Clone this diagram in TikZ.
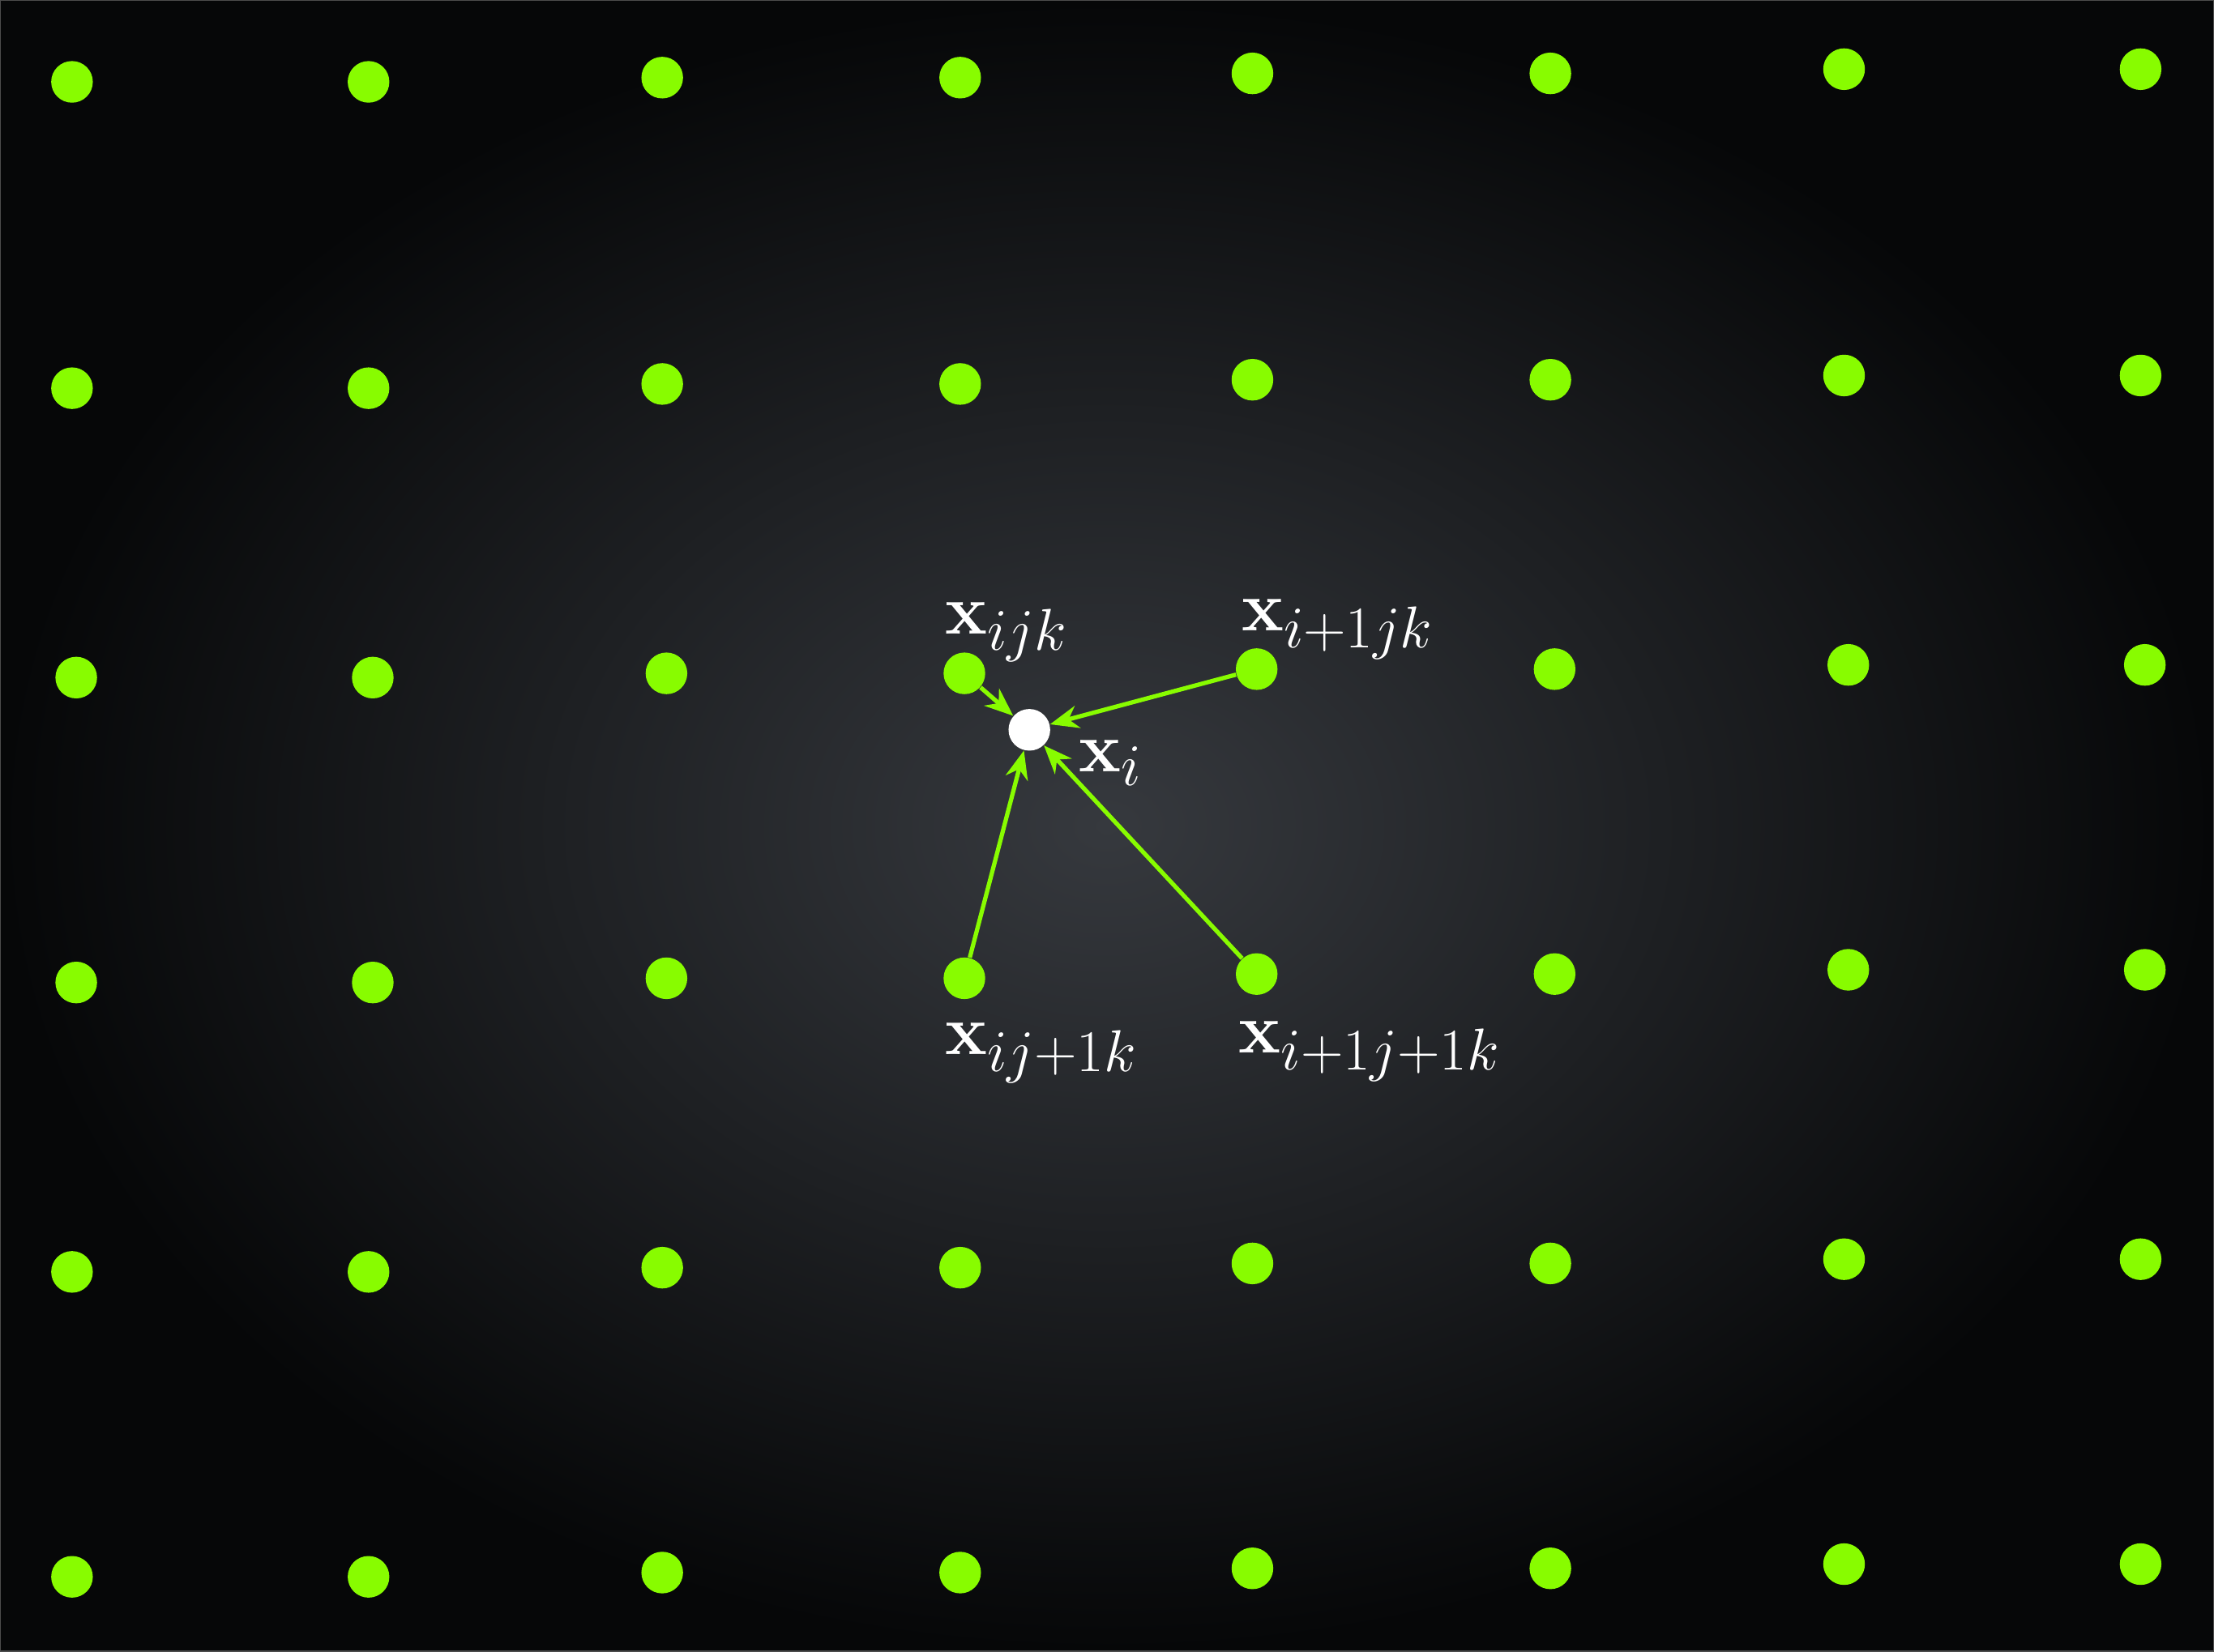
\documentclass[tikz,border=0pt]{standalone}
\usepackage{amsmath}
\usepackage{tikz}
\usetikzlibrary{positioning, calc, arrows.meta}

\definecolor{limegreen}{RGB}{136,252,0}
\definecolor{panelgray}{RGB}{54,57,62}
\definecolor{paneldark}{RGB}{6,7,8}

\tikzset{
    gdot/.style={circle, fill=limegreen, inner sep=0pt, minimum size=0.514cm},
    wdot/.style={circle, fill=white, inner sep=0pt, minimum size=0.514cm},
    link/.style={limegreen, line width=1.5pt, -{Stealth[length=10pt, width=8pt]}},
    lbl/.style={white, anchor=base west, inner sep=0pt, font=\fontsize{28}{33}\selectfont}
}

\begin{document}
\begin{tikzpicture}[x=0.017423cm, y=-0.017423cm]

    % Background panel
    \useasboundingbox (0,0) rectangle (1568,1170);
    \shade[inner color=panelgray, outer color=paneldark] (0,0) rectangle (1568,1170);
    \draw[gray!60!black, line width=0.6pt] (0,0) rectangle (1568,1170);

    % Grid of sample points
    \foreach \r/\y/\dx in {1/58/0, 2/275/0, 3/480/3, 4/696/3, 5/901/0, 6/1117/0}{
        \foreach \c/\x/\dy in {1/51/0, 2/261/0, 3/469/3, 4/680/3,
                               5/887/6, 6/1098/6, 7/1306/9, 8/1516/9}{
            \node[gdot] (d-\r-\c) at (\x+\dx, \y-\dy) {};
        }
    }

    % Interpolated point
    \node[wdot] (xi) at (729, 517) {};

    % Contributions of the four neighbours
    \draw[link] (d-3-4) -- (xi);
    \draw[link] (d-3-5) -- (xi);
    \draw[link] (d-4-4) -- (xi);
    \draw[link] (d-4-5) -- (xi);

    % Labels
    \node[lbl] (lbl-ijk)   at (669, 449)   {$\mathbf{x}_{ijk}$};
    \node[lbl] (lbl-i1jk)  at (879, 447)   {$\mathbf{x}_{i+1jk}$};
    \node[lbl] (lbl-i)     at (764, 546.5) {$\mathbf{x}_{i}$};
    \node[lbl] (lbl-ij1k)  at (669, 747)   {$\mathbf{x}_{ij+1k}$};
    \node[lbl] (lbl-i1j1k) at (877, 746)   {$\mathbf{x}_{i+1j+1k}$};

\end{tikzpicture}
\end{document}
